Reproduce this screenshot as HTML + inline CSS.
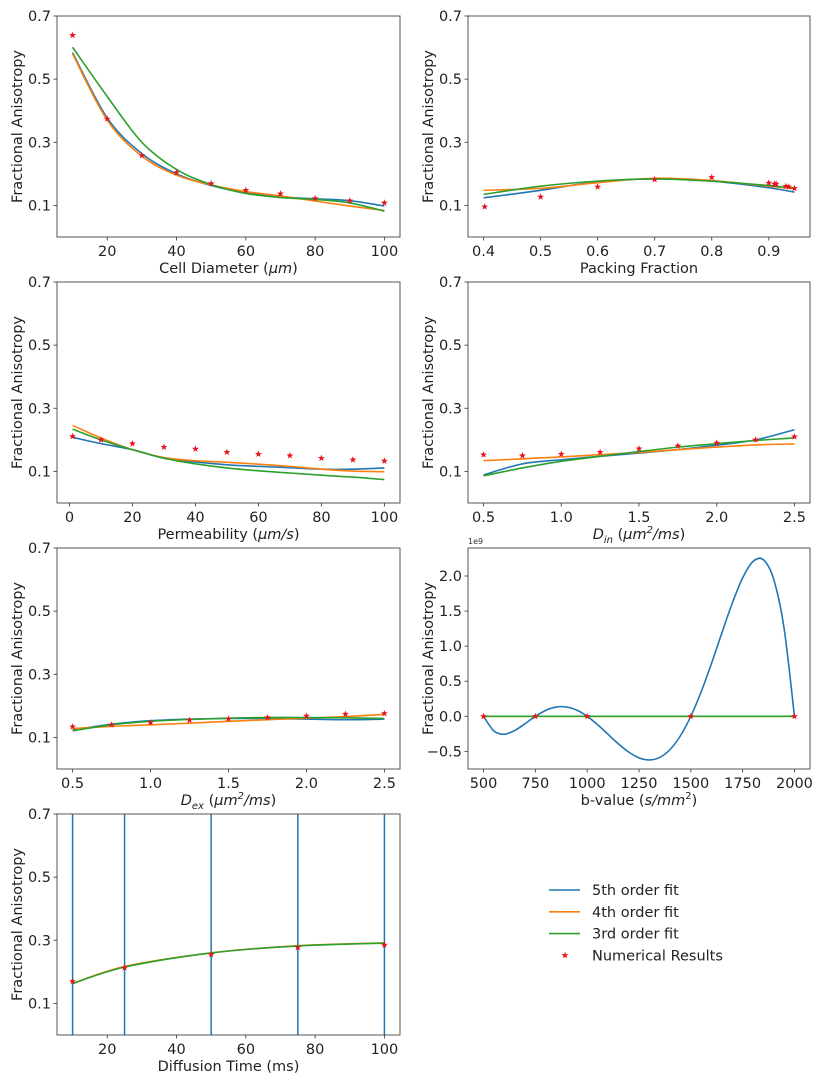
<!DOCTYPE html>
<html><head><meta charset="utf-8">
<style>
html,body{margin:0;padding:0;background:#fff;}
svg{display:block;font-family:"DejaVu Sans","Liberation Sans",sans-serif;}
</style></head>
<body>
<svg id="fig" width="827" height="1079" viewBox="0 0 827 1079" xmlns="http://www.w3.org/2000/svg"></svg>
<script>
// ---------- data ----------
const cellX = [10,20,30,40,50,60,70,80,90,100];
const cellPts = [0.639,0.374,0.258,0.204,0.169,0.148,0.137,0.122,0.115,0.108];
const cellFit5 = [0.584,0.377,0.264,0.200,0.163,0.140,0.127,0.121,0.115,0.098];
const cellFit4 = [0.580,0.370,0.256,0.196,0.165,0.144,0.130,0.114,0.098,0.084];
const cellFit3 = [0.601,0.445,0.300,0.214,0.166,0.138,0.125,0.119,0.108,0.082];

const packX = [0.402,0.5,0.6,0.7,0.8,0.9,0.91,0.913,0.93,0.935,0.945];
const packPts = [0.096,0.127,0.159,0.182,0.189,0.171,0.168,0.168,0.161,0.159,0.154];
const packFitX = [0.4,0.5,0.6,0.7,0.8,0.9,0.945];
const packFit5 = [0.124,0.148,0.175,0.184,0.177,0.156,0.142];
const packFit4 = [0.148,0.154,0.172,0.186,0.179,0.161,0.153];
const packFit3 = [0.135,0.161,0.177,0.184,0.177,0.163,0.155];

const permX = [1,10,20,30,40,50,60,70,80,90,100];
const permPts = [0.211,0.200,0.188,0.177,0.171,0.161,0.155,0.150,0.142,0.137,0.133];
const permFit5 = [0.208,0.188,0.169,0.142,0.130,0.121,0.116,0.112,0.107,0.107,0.111];
const permFit4 = [0.246,0.206,0.169,0.144,0.134,0.129,0.123,0.116,0.107,0.101,0.099];
const permFit3 = [0.234,0.200,0.169,0.142,0.124,0.111,0.102,0.095,0.088,0.082,0.074];

const dinX = [0.5,0.75,1.0,1.25,1.5,1.75,2.0,2.25,2.5];
const dinPts = [0.153,0.150,0.155,0.161,0.172,0.181,0.190,0.200,0.210];
const dinFit5 = [0.089,0.124,0.137,0.148,0.158,0.169,0.183,0.200,0.232];
const dinFit4 = [0.134,0.140,0.146,0.153,0.160,0.169,0.177,0.184,0.187];
const dinFit3 = [0.086,0.111,0.132,0.148,0.163,0.177,0.188,0.198,0.206];

const dexX = [0.5,0.75,1.0,1.25,1.5,1.75,2.0,2.25,2.5];
const dexPts = [0.134,0.140,0.147,0.155,0.159,0.163,0.168,0.174,0.176];
const dexFit5 = [0.123,0.142,0.153,0.158,0.160,0.160,0.158,0.156,0.158];
const dexFit4 = [0.128,0.135,0.140,0.145,0.151,0.156,0.161,0.166,0.173];
const dexFit3 = [0.121,0.140,0.151,0.157,0.161,0.163,0.163,0.162,0.160];

const bX = [500,750,1000,1500,2000];
const bPts = [0,0,0,0,0];
const bFitX = [500,550,600,650,700,750,800,850,900,950,1000,1050,1100,1150,1200,1250,1300,1350,1400,1450,1500,1550,1600,1650,1700,1750,1800,1850,1900,1950,2000];
const bFit5 = [0,-0.209,-0.255,-0.203,-0.105,0,0.085,0.132,0.133,0.088,0,-0.119,-0.255,-0.391,-0.509,-0.592,-0.622,-0.586,-0.473,-0.277,0,0.350,0.756,1.190,1.613,1.973,2.207,2.232,1.952,1.253,0];
const bFit4 = [0,0,0,0,0];
const bFit3 = [0,0,0,0,0];

const dtX = [10,25,50,75,100];
const dtPts = [0.170,0.213,0.255,0.277,0.285];
const dtFit4 = [0.163,0.217,0.260,0.283,0.292];
const dtFit3 = [0.163,0.215,0.260,0.282,0.291];
const dtFit5X = [10,25,50,75,100];

const faTicks = [0.1,0.3,0.5,0.7];
const faTickLabels = ["0.1","0.3","0.5","0.7"];
const bTicks = [-0.5,0,0.5,1.0,1.5,2.0];
const bTickLabels = ["\u22120.5","0.0","0.5","1.0","1.5","2.0"];

// ---------- drawing ----------
const NS = "http://www.w3.org/2000/svg";
const svg = document.getElementById('fig');
const C5 = "#1f77b4", C4 = "#ff7f0e", C3 = "#2ca02c", CR = "#e8141c";
function mk(tag, attrs, parent){
  const e = document.createElementNS(NS, tag);
  for (const k in attrs) e.setAttribute(k, attrs[k]);
  (parent||svg).appendChild(e);
  return e;
}
function smooth(pts){
  if (pts.length < 3) return "M" + pts.map(p=>p[0].toFixed(2)+","+p[1].toFixed(2)).join("L");
  let d = "M" + pts[0][0].toFixed(2) + "," + pts[0][1].toFixed(2);
  for (let i=0;i<pts.length-1;i++){
    const p0 = pts[i-1]||pts[i], p1 = pts[i], p2 = pts[i+1], p3 = pts[i+2]||pts[i+1];
    const c1x = p1[0]+(p2[0]-p0[0])/6, c1y = p1[1]+(p2[1]-p0[1])/6;
    const c2x = p2[0]-(p3[0]-p1[0])/6, c2y = p2[1]-(p3[1]-p1[1])/6;
    d += "C"+c1x.toFixed(2)+","+c1y.toFixed(2)+" "+c2x.toFixed(2)+","+c2y.toFixed(2)+" "+p2[0].toFixed(2)+","+p2[1].toFixed(2);
  }
  return d;
}
function starPts(cx, cy, r){
  const a = [];
  for (let i=0;i<10;i++){
    const rr = i%2===0 ? r : r*0.42;
    const ang = -Math.PI/2 + i*Math.PI/5;
    a.push((cx+rr*Math.cos(ang)).toFixed(2)+","+(cy+rr*Math.sin(ang)).toFixed(2));
  }
  return a.join(" ");
}
let clipId = 0;
function panel(o){
  const g = mk('g', {});
  
  
  const X = v => o.L + (v - o.xmin)/(o.xmax - o.xmin)*o.W;
  const Y = v => o.T + o.H - (v - o.ymin)/(o.ymax - o.ymin)*o.H;
  const cid = 'clip'+(clipId++);
  const cp = mk('clipPath', {id: cid}, g);
  mk('rect', {x:o.L, y:o.T, width:o.W, height:o.H}, cp);
  const plot = mk('g', {'clip-path':'url(#'+cid+')'}, g);
  
  
  // fits
  o.fits.forEach(f => {
    let p;
    if (f.vertical){
      const vg = mk('g', {}, plot);
      
      
      f.x.forEach(xv => {
        const ln = mk('line', {x1:X(xv), x2:X(xv), y1:o.T-5, y2:o.T+o.H+5, stroke:f.c, 'stroke-width':1.5}, vg);
        
        
      });
      return;
    }
    const pts = f.x.map((xv,i)=>[X(xv), Y(f.y[i])]);
    p = mk('path', {d: smooth(pts), fill:'none', stroke:f.c, 'stroke-width':1.6, 'stroke-linejoin':'round'}, plot);
    
    
  });
  // points
  const pg = mk('g', {}, g);
  
  
  o.px.forEach((xv,i) => {
    const s = mk('polygon', {points: starPts(X(xv), Y(o.py[i]), 3.6), fill: CR}, pg);
    
    
  });
  // spines
  const fr = mk('rect', {x:o.L, y:o.T, width:o.W, height:o.H, fill:'none', stroke:'#444', 'stroke-width':0.9}, g);
  
  
  // y ticks
  o.yt.forEach((v,i) => {
    const y = Y(v);
    const t = mk('line', {x1:o.L-3.5, x2:o.L, y1:y, y2:y, stroke:'#444', 'stroke-width':0.9}, g);
    
    
    const tx = mk('text', {x:o.L-6, y:y+5, 'text-anchor':'end', 'font-size':14.5, fill:'#222'}, g);
    tx.textContent = o.ytl[i];
    
    
  });
  // x ticks
  o.xt.forEach((v,i) => {
    const x = X(v);
    const t = mk('line', {x1:x, x2:x, y1:o.T+o.H, y2:o.T+o.H+3.5, stroke:'#444', 'stroke-width':0.9}, g);
    
    
    const tx = mk('text', {x:x, y:o.T+o.H+19, 'text-anchor':'middle', 'font-size':14.5, fill:'#222'}, g);
    tx.textContent = o.xtl[i];
    
    
  });
  // y label
  const yl = mk('text', {x:0, y:0, transform:'translate('+(o.L-35)+','+(o.T+o.H/2)+') rotate(-90)', 'text-anchor':'middle', 'font-size':14.5, fill:'#222'}, g);
  yl.textContent = 'Fractional Anisotropy';
  
  
  // x label
  const xl = mk('text', {x:o.L+o.W/2, y:o.T+o.H+36, 'text-anchor':'middle', 'font-size':14.5, fill:'#222'}, g);
  xl.innerHTML = o.xlabel;
  
  
  if (o.offset){
    const ot = mk('text', {x:o.L, y:o.T-4, 'font-size':8, fill:'#333'}, g);
    ot.textContent = o.offset;
    
    
  }
}
const LL = 57, LW = 343, RL = 468, RW = 342, H = 221;
const tops = [16, 282, 548, 814];
const rng = (a,b)=>{const m=(b-a)*0.05;return [a-m,b+m];};
const seq = (a,b,s)=>{const r=[];for(let v=a;v<=b+1e-9;v+=s)r.push(+v.toFixed(4));return r;};
const mu = 'font-style="italic"';

let r = rng(10,100);
panel({name:'cell-diameter-chart', L:LL, T:tops[0], W:LW, H:H, xmin:r[0], xmax:r[1], ymin:0, ymax:0.7,
  xt:[20,40,60,80,100], xtl:["20","40","60","80","100"], yt:faTicks, ytl:faTickLabels,
  xlabel:'Cell Diameter (<tspan '+mu+'>\u03bcm</tspan>)', px:cellX, py:cellPts,
  fits:[{name:'fit-5th',c:C5,x:cellX,y:cellFit5},{name:'fit-4th',c:C4,x:cellX,y:cellFit4},{name:'fit-3rd',c:C3,x:cellX,y:cellFit3}]});

r = rng(0.4,0.945);
panel({name:'packing-fraction-chart', L:RL, T:tops[0], W:RW, H:H, xmin:r[0], xmax:r[1], ymin:0, ymax:0.7,
  xt:[0.4,0.5,0.6,0.7,0.8,0.9], xtl:["0.4","0.5","0.6","0.7","0.8","0.9"], yt:faTicks, ytl:faTickLabels,
  xlabel:'Packing Fraction', px:packX, py:packPts,
  fits:[{name:'fit-5th',c:C5,x:packFitX,y:packFit5},{name:'fit-4th',c:C4,x:packFitX,y:packFit4},{name:'fit-3rd',c:C3,x:packFitX,y:packFit3}]});

r = rng(1,100);
panel({name:'permeability-chart', L:LL, T:tops[1], W:LW, H:H, xmin:r[0], xmax:r[1], ymin:0, ymax:0.7,
  xt:[0,20,40,60,80,100], xtl:["0","20","40","60","80","100"], yt:faTicks, ytl:faTickLabels,
  xlabel:'Permeability (<tspan '+mu+'>\u03bcm/s</tspan>)', px:permX, py:permPts,
  fits:[{name:'fit-5th',c:C5,x:permX,y:permFit5},{name:'fit-4th',c:C4,x:permX,y:permFit4},{name:'fit-3rd',c:C3,x:permX,y:permFit3}]});

r = rng(0.5,2.5);
panel({name:'d-in-chart', L:RL, T:tops[1], W:RW, H:H, xmin:r[0], xmax:r[1], ymin:0, ymax:0.7,
  xt:[0.5,1.0,1.5,2.0,2.5], xtl:["0.5","1.0","1.5","2.0","2.5"], yt:faTicks, ytl:faTickLabels,
  xlabel:'<tspan '+mu+'>D</tspan><tspan '+mu+' font-size="10" dy="4">in</tspan><tspan dy="-4"> (</tspan><tspan '+mu+'>\u03bcm</tspan><tspan '+mu+' font-size="10" dy="-6">2</tspan><tspan '+mu+' dy="6">/ms</tspan>)',
  px:dinX, py:dinPts,
  fits:[{name:'fit-5th',c:C5,x:dinX,y:dinFit5},{name:'fit-4th',c:C4,x:dinX,y:dinFit4},{name:'fit-3rd',c:C3,x:dinX,y:dinFit3}]});

panel({name:'d-ex-chart', L:LL, T:tops[2], W:LW, H:H, xmin:r[0], xmax:r[1], ymin:0, ymax:0.7,
  xt:[0.5,1.0,1.5,2.0,2.5], xtl:["0.5","1.0","1.5","2.0","2.5"], yt:faTicks, ytl:faTickLabels,
  xlabel:'<tspan '+mu+'>D</tspan><tspan '+mu+' font-size="10" dy="4">ex</tspan><tspan dy="-4"> (</tspan><tspan '+mu+'>\u03bcm</tspan><tspan '+mu+' font-size="10" dy="-6">2</tspan><tspan '+mu+' dy="6">/ms</tspan>)',
  px:dexX, py:dexPts,
  fits:[{name:'fit-5th',c:C5,x:dexX,y:dexFit5},{name:'fit-4th',c:C4,x:dexX,y:dexFit4},{name:'fit-3rd',c:C3,x:dexX,y:dexFit3}]});

r = rng(500,2000);
panel({name:'b-value-chart', L:RL, T:tops[2], W:RW, H:H, xmin:r[0], xmax:r[1], ymin:-0.751, ymax:2.399,
  xt:[500,750,1000,1250,1500,1750,2000], xtl:["500","750","1000","1250","1500","1750","2000"], yt:bTicks, ytl:bTickLabels,
  xlabel:'b-value (<tspan '+mu+'>s/mm</tspan><tspan font-size="10" dy="-6">2</tspan><tspan dy="6">)</tspan>', offset:'1e9',
  px:bX, py:bPts,
  fits:[{name:'fit-5th',c:C5,x:bFitX,y:bFit5},{name:'fit-4th',c:C4,x:bX,y:bFit4},{name:'fit-3rd',c:C3,x:bX,y:bFit3}]});

r = rng(10,100);
panel({name:'diffusion-time-chart', L:LL, T:tops[3], W:LW, H:H, xmin:r[0], xmax:r[1], ymin:0, ymax:0.7,
  xt:[20,40,60,80,100], xtl:["20","40","60","80","100"], yt:faTicks, ytl:faTickLabels,
  xlabel:'Diffusion Time (ms)', px:dtX, py:dtPts,
  fits:[{name:'fit-5th',c:C5,x:dtFit5X,vertical:true},{name:'fit-4th',c:C4,x:dtX,y:dtFit4},{name:'fit-3rd',c:C3,x:dtX,y:dtFit3}]});

// legend
const lg = mk('g', {});


const legendItems = [["5th order fit",C5],["4th order fit",C4],["3rd order fit",C3],["Numerical Results",null]];
legendItems.forEach((it,i) => {
  const y = 890 + i*21.8;
  const eg = mk('g', {}, lg);
  
  
  if (it[1]) mk('line', {x1:549, x2:580, y1:y, y2:y, stroke:it[1], 'stroke-width':1.6}, eg);
  else mk('polygon', {points: starPts(565, y, 3.6), fill: CR}, eg);
  const t = mk('text', {x:592, y:y+5, 'font-size':14.5, fill:'#222'}, eg);
  t.textContent = it[0];
});
</script>
</body></html>
